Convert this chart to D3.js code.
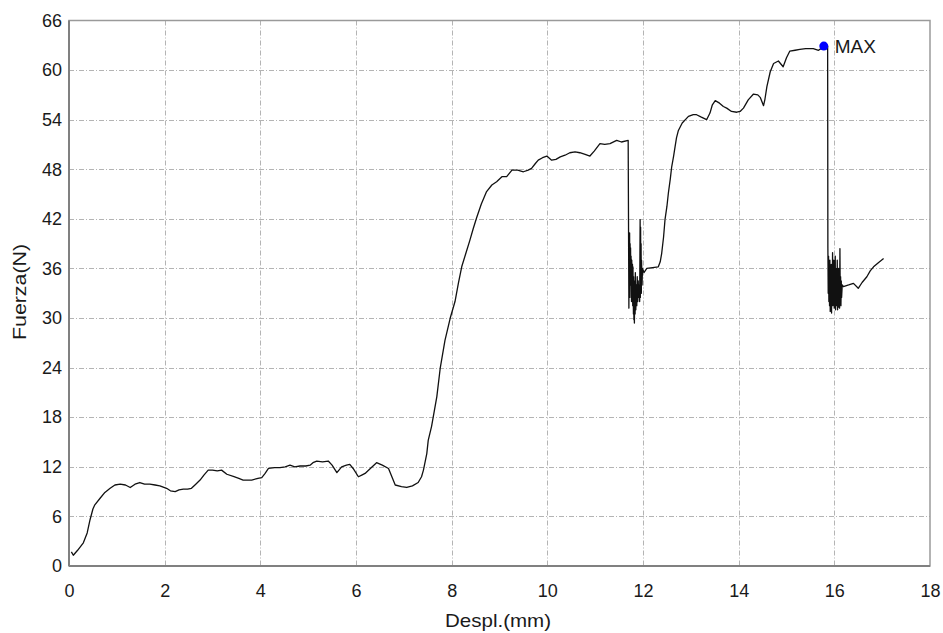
<!DOCTYPE html>
<html><head><meta charset="utf-8">
<script src="https://cdn.jsdelivr.net/npm/d3@7"></script>
<style>body{margin:0;background:#fff}svg{display:block}text{font-family:"Liberation Sans",Arial,sans-serif}</style>
</head><body>
<script>
// ---- data ----
const xTicks = [0,2,4,6,8,10,12,14,16,18];
const yTicks = [0,6,12,18,24,30,36,42,48,54,60,66];
const xTitle = "Despl.(mm)";
const yTitle = "Fuerza(N)";
const maxLabel = "MAX";
const maxPoint = [15.78, 62.9];

const despl = [
0.05,0.09,0.18,0.30,0.38,0.44,0.50,0.54,0.65,0.75,0.86,0.96,1.07,1.18,1.28,1.38,1.48,1.58,1.69,1.80,1.90,2.04,2.12,2.22,2.30,2.39,2.48,2.56,2.65,2.74,2.82,2.91,3.00,3.10,3.19,3.30,3.45,3.55,3.64,3.75,3.82,3.95,4.03,4.10,4.17,4.30,4.41,4.52,4.62,4.72,4.83,4.95,5.04,5.10,5.18,5.30,5.42,5.50,5.60,5.70,5.80,5.87,5.94,6.05,6.12,6.19,6.30,6.43,6.55,6.68,6.75,6.82,6.95,7.06,7.18,7.30,7.37,7.41,7.48,7.51,7.58,7.69,7.76,7.86,7.97,8.07,8.14,8.21,8.30,8.38,8.45,8.52,8.62,8.73,8.84,8.94,9.05,9.15,9.26,9.38,9.50,9.60,9.67,9.75,9.81,9.90,9.99,10.09,10.18,10.27,10.37,10.47,10.58,10.68,10.79,10.89,10.98,11.10,11.20,11.31,11.45,11.55,11.69,
11.705,11.71,11.715,11.72,11.725,11.73,11.735,11.74,11.745,11.75,11.76,11.765,11.77,11.78,11.785,11.79,11.80,11.805,11.81,11.815,11.82,11.83,11.835,11.84,11.85,11.86,11.87,11.88,11.89,11.90,11.91,11.92,11.93,11.94,11.945,11.95,11.955,11.96,11.965,11.97,11.98,11.99,12.02,
12.08,12.20,12.32,12.36,12.39,12.43,12.46,12.50,12.53,12.57,12.60,12.64,12.67,12.70,12.74,12.82,12.95,13.05,13.12,13.22,13.33,13.40,13.45,13.51,13.60,13.68,13.75,13.85,13.96,14.03,14.10,14.20,14.31,14.40,14.45,14.52,14.55,14.59,14.66,14.73,14.83,14.93,15.00,15.07,15.18,15.28,15.40,15.56,15.67,15.72,15.78,15.86,
15.865,15.872,15.879,15.886,15.893,15.900,15.907,15.914,15.921,15.928,15.935,15.942,15.949,15.956,15.963,15.970,15.977,15.984,15.991,15.998,16.005,16.012,16.019,16.026,16.033,16.040,16.047,16.054,16.061,16.068,16.075,16.082,16.089,16.096,16.103,16.110,16.117,16.124,16.131,16.138,16.145,16.152,16.165,
16.19,16.30,16.40,16.50,16.58,16.68,16.75,16.82,16.92,17.03
];
const fuerza = [
1.7,1.3,1.9,2.8,4.0,5.6,6.9,7.4,8.2,8.9,9.4,9.8,9.9,9.8,9.5,9.9,10.1,9.9,9.9,9.8,9.7,9.4,9.1,9.0,9.2,9.3,9.3,9.4,9.9,10.4,11.0,11.6,11.6,11.5,11.6,11.1,10.8,10.6,10.4,10.4,10.4,10.6,10.7,11.2,11.8,11.9,11.9,12.0,12.2,12.0,12.1,12.1,12.2,12.5,12.7,12.6,12.7,12.2,11.3,12.0,12.2,12.3,11.8,10.8,11.0,11.2,11.8,12.5,12.2,11.8,10.8,9.8,9.6,9.5,9.7,10.1,10.8,11.6,13.6,15.2,16.9,20.5,23.9,27.3,30.0,32.0,34.2,36.2,37.9,39.4,40.8,42.1,43.8,45.3,46.1,46.5,47.1,47.1,47.9,47.9,47.7,47.9,48.1,48.7,49.1,49.4,49.6,49.1,49.2,49.5,49.7,50.0,50.1,50.0,49.8,49.6,50.2,51.1,51.0,51.1,51.5,51.3,51.5,
31.2,40.0,33.0,40.3,32.5,39.0,34.0,38.5,35.0,37.5,32.0,37.0,33.5,36.5,31.5,36.2,30.5,35.0,29.8,34.5,29.4,34.0,30.5,35.5,31.0,34.0,31.5,35.0,32.0,34.5,32.5,34.0,32.0,41.9,32.5,41.0,33.0,39.0,33.0,37.0,34.0,36.0,35.5,
36.0,36.1,36.2,36.8,37.8,39.8,41.9,43.5,45.1,46.8,48.3,49.6,50.7,51.8,52.7,53.6,54.4,54.6,54.6,54.3,54.0,54.8,55.8,56.3,56.0,55.6,55.4,55.0,54.9,55.0,55.4,56.4,57.1,57.0,56.7,55.7,56.5,58.0,59.8,60.8,61.1,60.4,61.5,62.3,62.4,62.5,62.6,62.6,62.4,62.6,62.9,62.9,
38.6,33.0,37.5,32.0,36.5,31.5,37.0,30.8,35.5,31.5,36.5,30.6,35.0,32.0,37.9,31.5,36.5,32.5,37.0,31.2,36.0,32.0,37.5,31.0,35.5,32.5,36.0,31.5,37.0,31.0,35.5,31.3,36.0,31.5,35.5,31.2,38.4,32.0,35.0,31.5,34.5,32.5,34.0,
33.8,34.0,34.2,33.6,34.3,35.0,35.7,36.2,36.7,37.2
];

// ---- chart ----
const W = 943, H = 633;
const svg = d3.select("body").append("svg").attr("width", W).attr("height", H);
const x = d3.scaleLinear().domain([0, 18]).range([69, 930]);
const y = d3.scaleLinear().domain([0, 66]).range([566, 20.5]);
const fsTick = 18, fsTitle = 19;

// grid
const grid = svg.append("g").attr("stroke", "#b4b4b4").attr("stroke-width", 1).attr("stroke-dasharray", "5,2,1,2");
grid.selectAll("line.v").data(xTicks.slice(1, -1)).join("line")
  .attr("x1", d => Math.round(x(d)) + 0.5).attr("x2", d => Math.round(x(d)) + 0.5)
  .attr("y1", y(66)).attr("y2", y(0));
grid.selectAll("line.h").data(yTicks.slice(1, -1)).join("line")
  .attr("y1", d => Math.round(y(d)) + 0.5).attr("y2", d => Math.round(y(d)) + 0.5)
  .attr("x1", x(0)).attr("x2", x(18));

// frame
svg.append("rect").attr("x", x(0)).attr("y", y(66)).attr("width", x(18) - x(0)).attr("height", y(0) - y(66))
  .attr("fill", "none").attr("stroke", "#9a9a9a").attr("stroke-width", 1.5);
svg.append("line").attr("x1", x(0)).attr("x2", x(0)).attr("y1", y(66)).attr("y2", y(0)).attr("stroke", "#808080").attr("stroke-width", 2);
svg.append("line").attr("x1", x(0)).attr("x2", x(18)).attr("y1", y(0)).attr("y2", y(0)).attr("stroke", "#808080").attr("stroke-width", 2);

// axes labels using d3 axes (no domain / tick lines)
const xAxis = svg.append("g").attr("transform", `translate(0,${y(0)})`)
  .call(d3.axisBottom(x).tickValues(xTicks).tickSize(0).tickPadding(18).tickFormat(d3.format("d")));
const yAxis = svg.append("g").attr("transform", `translate(${x(0)},0)`)
  .call(d3.axisLeft(y).tickValues(yTicks).tickSize(0).tickPadding(7).tickFormat(d3.format("d")));
[xAxis, yAxis].forEach(a => {
  a.select(".domain").remove();
  a.selectAll("text").attr("font-size", fsTick).attr("fill", "#1a1a1a").attr("font-family", '"Liberation Sans",Arial,sans-serif');
});

svg.append("text").attr("x", 498).attr("y", 627).attr("text-anchor", "middle")
  .attr("font-size", fsTitle).attr("fill", "#1a1a1a").attr("textLength", 106).attr("lengthAdjust", "spacingAndGlyphs").text(xTitle);
svg.append("text").attr("transform", `translate(26,${292}) rotate(-90)`).attr("text-anchor", "middle")
  .attr("font-size", fsTitle).attr("fill", "#1a1a1a").attr("textLength", 96).attr("lengthAdjust", "spacingAndGlyphs").text(yTitle);

// curve
const pts = despl.map((d, i) => [d, fuerza[i]]);
svg.append("path").datum(pts)
  .attr("d", d3.line().x(d => x(d[0])).y(d => y(d[1])))
  .attr("fill", "none").attr("stroke", "#111").attr("stroke-width", 1.3).attr("stroke-linejoin", "round");

// max marker
svg.append("circle").attr("cx", x(maxPoint[0])).attr("cy", y(maxPoint[1])).attr("r", 4.5).attr("fill", "#0000ff");
svg.append("text").attr("x", x(maxPoint[0]) + 11).attr("y", y(maxPoint[1]) + 6.5)
  .attr("font-size", fsTitle).attr("fill", "#1a1a1a").text(maxLabel);
</script>
</body></html>
